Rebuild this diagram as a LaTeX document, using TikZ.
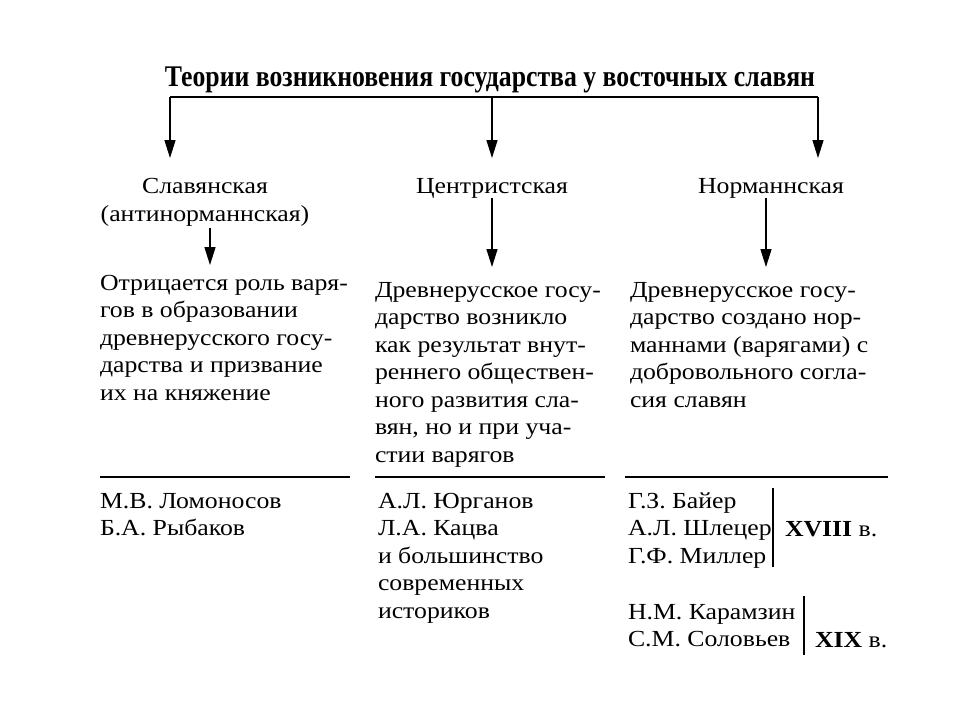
\documentclass[tikz,border=0pt]{standalone}
\usepackage{fontspec}
\setmainfont{Liberation Serif}[FakeStretch=1.12]
\usetikzlibrary{arrows.meta}
\begin{document}
\begin{tikzpicture}[x=0.5pt,y=-0.5pt,
  every node/.style={inner sep=0pt, outer sep=0pt},
  txt/.style={anchor=base west, align=left, font=\fontsize{11.5}{13.75}\selectfont},
  hdr/.style={anchor=base, align=center, font=\fontsize{11.5}{13.75}\selectfont},
  ln/.style={line width=0.7pt},
  arr/.style={line width=0.7pt, -{Triangle[length=9pt,width=5.5pt]}}]
\useasboundingbox[fill=white] (0,0) rectangle (960,720);

% title
\node[anchor=base] (title) at (490,86) {\resizebox{325pt}{\height}{\fontsize{15}{18}\selectfont\bfseries Теории возникновения государства у восточных славян}};

\coordinate (hl) at (170,97);
\coordinate (hm) at (492,97);
\coordinate (hr) at (818,97);
\coordinate (t1) at (170,158);
\coordinate (t2) at (492,158);
\coordinate (t3) at (818,158);
\draw[ln] (hl) -- (hr);
\draw[arr] (hl) -- (t1);
\draw[arr] (hm) -- (t2);
\draw[arr] (hr) -- (t3);

% headers (base anchor = baseline of last line)
\node[hdr] (h1) at (205,221) {Славянская\\(антинорманнская)};
\node[hdr] (h2) at (492,193) {Центристская};
\node[hdr] (h3) at (771,193) {Норманнская};

% body texts
\node[txt] (b1) at (100,400) {Отрицается роль варя-\\гов в образовании\\древнерусского госу-\\дарства и призвание\\их на княжение};
\node[txt] (b2) at (375,462) {Древнерусское госу-\\дарство возникло\\как результат внут-\\реннего обществен-\\ного развития сла-\\вян, но и при уча-\\стии варягов};
\node[txt] (b3) at (630,407) {Древнерусское госу-\\дарство создано нор-\\маннами (варягами) с\\добровольного согла-\\сия славян};

\coordinate (s1) at (210,228);
\coordinate (e1) at (210,265);
\coordinate (s2) at (492,198);
\coordinate (e2) at (492,267);
\coordinate (s3) at (766,198);
\coordinate (e3) at (766,267);
\draw[arr] (s1) -- (e1);
\draw[arr] (s2) -- (e2);
\draw[arr] (s3) -- (e3);

% rules
\coordinate (r1a) at (100,477); \coordinate (r1b) at (350,477);
\coordinate (r2a) at (375,477); \coordinate (r2b) at (605,477);
\coordinate (r3a) at (625,477); \coordinate (r3b) at (888,477);
\draw[ln] (r1a) -- (r1b);
\draw[ln] (r2a) -- (r2b);
\draw[ln] (r3a) -- (r3b);

% names
\node[txt] (n1) at (100,535.5) {М.В. Ломоносов\\Б.А. Рыбаков};
\node[txt] (n2) at (378,618) {А.Л. Юрганов\\Л.А. Кацва\\и большинство\\современных\\историков};
\node[txt] (n3) at (628,563) {Г.З. Байер\\А.Л. Шлецер\\Г.Ф. Миллер};
\node[txt] (n4) at (628,646.5) {Н.М. Карамзин\\С.М. Соловьев};
\node[txt] (c18) at (785,536) {\textbf{XVIII} в.};
\node[txt] (c19) at (815,647) {\textbf{XIX} в.};

\coordinate (v1a) at (773,488); \coordinate (v1b) at (773,567);
\coordinate (v2a) at (804,596); \coordinate (v2b) at (804,655);
\draw[ln] (v1a) -- (v1b);
\draw[ln] (v2a) -- (v2b);
\end{tikzpicture}
\end{document}
